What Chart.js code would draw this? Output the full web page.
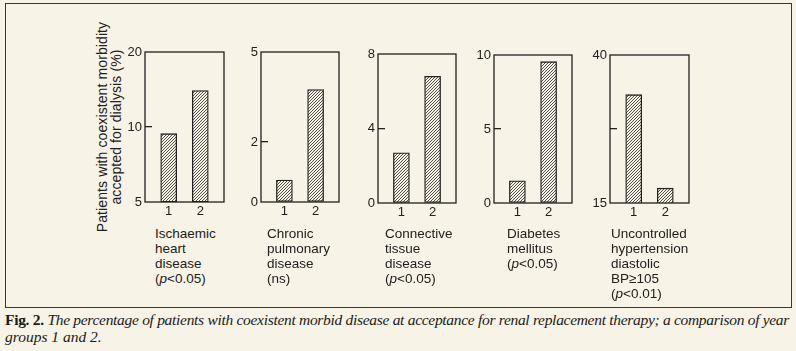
<!DOCTYPE html>
<html><head><meta charset="utf-8">
<script src="https://cdn.jsdelivr.net/npm/chart.js@4.4.1/dist/chart.umd.min.js"></script>
<style>
html,body{margin:0;padding:0;background:#f7f3e7;}
body{width:796px;height:351px;position:relative;overflow:hidden;font-family:"Liberation Sans",Arial,sans-serif;color:#232120;}
#frame{position:absolute;left:5px;top:3px;border:1.5px solid #3a3836;box-sizing:border-box;width:787px;height:305px;}
canvas.panel{position:absolute;}
.cat{position:absolute;top:226px;font-size:13.5px;line-height:15px;white-space:nowrap;}
#ytitle{position:absolute;left:-1px;top:113px;width:220px;height:28px;font-size:14px;line-height:14px;text-align:center;white-space:nowrap;transform:rotate(-90deg);transform-origin:110px 14px;letter-spacing:0.1px;}
#caption{position:absolute;left:5px;top:311px;font-family:"Liberation Serif","DejaVu Serif",serif;font-size:15.5px;line-height:17px;white-space:nowrap;color:#1c1a19;}
#caption i{font-style:italic;}
</style>
</head><body>
<div id="frame"></div>
<div id="ytitle">Patients with coexistent morbidity<br>accepted for dialysis (%)</div>
<div id="caption"><span id="cap1"><b>Fig. 2.</b> <i>The percentage of patients with coexistent morbid disease at acceptance for renal replacement therapy; a comparison of year</i></span><br><i>groups 1 and 2.</i></div>
<script>
// ---- data ----
const yearGroups = ['1', '2'];
const ischaemicHeart = [9.4, 14.0];
const chronicPulmonary = [0.73, 3.75];
const connectiveTissue = [2.7, 6.8];
const diabetesMellitus = [1.5, 9.55];
const uncontrolledHypertension = [33.3, 17.5];

const ticksIschaemic = [5, 10, 20];
const ticksPulmonary = [0, 2, 5];
const ticksConnective = [0, 4, 8];
const ticksDiabetes = [0, 5, 10];
const ticksHypertension = [15, 27.5, 40];
const tickLabelsHypertension = ['15', '', '40'];

const labelIschaemic = ['Ischaemic', 'heart', 'disease', '(p<0.05)'];
const labelPulmonary = ['Chronic', 'pulmonary', 'disease', '(ns)'];
const labelConnective = ['Connective', 'tissue', 'disease', '(p<0.05)'];
const labelDiabetes = ['Diabetes', 'mellitus', '(p<0.05)'];
const labelHypertension = ['Uncontrolled', 'hypertension', 'diastolic', 'BP\u2265105', '(p<0.01)'];

// ---- layout / style ----
const INK = '#232120';
const BG = '#f7f3e7';
const panels = [
  {box:[145,52,224,202], type:'logarithmic', data:ischaemicHeart, ticks:ticksIschaemic, tickLabels:ticksIschaemic.map(String), label:labelIschaemic, labelX:155},
  {box:[261,52,339,202], type:'linear', data:chronicPulmonary, ticks:ticksPulmonary, tickLabels:ticksPulmonary.map(String), label:labelPulmonary, labelX:267},
  {box:[378,54,456,203], type:'linear', data:connectiveTissue, ticks:ticksConnective, tickLabels:ticksConnective.map(String), label:labelConnective, labelX:385},
  {box:[494,55,572,203], type:'linear', data:diabetesMellitus, ticks:ticksDiabetes, tickLabels:ticksDiabetes.map(String), label:labelDiabetes, labelX:507},
  {box:[610,55,689,203], type:'linear', data:uncontrolledHypertension, ticks:ticksHypertension, tickLabels:tickLabelsHypertension, label:labelHypertension, labelX:611}
];

function hatch() {
  const c = document.createElement('canvas');
  c.width = 3; c.height = 3;
  const x = c.getContext('2d');
  x.fillStyle = BG; x.fillRect(0, 0, 3, 3);
  x.strokeStyle = '#2a2826'; x.lineWidth = 0.8;
  x.beginPath();
  x.moveTo(0, 3); x.lineTo(3, 0);
  x.moveTo(-1, 1); x.lineTo(1, -1);
  x.moveTo(2, 4); x.lineTo(4, 2);
  x.stroke();
  return x.createPattern(c, 'repeat');
}

const boxPlugin = {
  id: 'boxFrame',
  afterDatasetsDraw(chart) {
    const {ctx, chartArea: a} = chart;
    ctx.save();
    ctx.strokeStyle = INK; ctx.lineWidth = 1.3;
    ctx.strokeRect(a.left, a.top, a.right - a.left, a.bottom - a.top);
    ctx.restore();
  }
};

const PADL = 40, PADT = 12, PADR = 10, PADB = 24;
const tickFont = {family: '"Liberation Sans", Arial, sans-serif', size: 13};

panels.forEach(p => {
  const [l, t, r, b] = p.box;
  const cv = document.createElement('canvas');
  cv.className = 'panel';
  const w = (r - l) + PADL + PADR, h = (b - t) + PADT + PADB;
  cv.width = w; cv.height = h;
  cv.style.left = (l - PADL) + 'px'; cv.style.top = (t - PADT) + 'px';
  cv.style.width = w + 'px'; cv.style.height = h + 'px';
  document.body.appendChild(cv);

  const yMin = p.ticks[0], yMax = p.ticks[p.ticks.length - 1];
  new Chart(cv, {
    type: 'bar',
    data: {
      datasets: [{
        data: p.data.map((v, i) => ({x: i + 1, y: v})),
        backgroundColor: hatch(),
        borderColor: INK,
        borderWidth: 1.3,
        borderSkipped: false,
        barThickness: 16
      }]
    },
    options: {
      responsive: false, maintainAspectRatio: false, animation: false,
      devicePixelRatio: 1,
      layout: {padding: {left: 0, top: PADT, right: PADR, bottom: 0}},
      plugins: {legend: {display: false}, tooltip: {enabled: false}},
      scales: {
        x: {
          type: 'linear', min: 0.25, max: 2.75, offset: false,
          afterFit: s => { s.height = PADB; },
          afterBuildTicks: s => { s.ticks = yearGroups.map((g, i) => ({value: i + 1})); },
          grid: {display: false, drawTicks: false},
          border: {display: false},
          ticks: {padding: 2, color: INK, font: tickFont, autoSkip: false, maxRotation: 0,
                  callback: (v) => yearGroups[v - 1]}
        },
        y: {
          type: p.type, min: yMin, max: yMax,
          afterFit: s => { s.width = PADL; },
          afterBuildTicks: s => { s.ticks = p.ticks.map(v => ({value: v})); },
          grid: {display: true, drawOnChartArea: true, drawTicks: false, lineWidth: 1.3,
                 color: c => (c.index > 0 && c.index < p.ticks.length - 1) ? INK : 'rgba(0,0,0,0)'},
          border: {display: false, dash: [7, 400]},
          ticks: {padding: 3, color: INK, font: tickFont, autoSkip: false,
                  callback: (v, i) => p.tickLabels[i]}
        }
      }
    },
    plugins: [boxPlugin]
  });

  const d = document.createElement('div');
  d.className = 'cat';
  d.style.left = p.labelX + 'px';
  d.innerHTML = p.label.map(s => s.replace(/&/g,'&amp;').replace(/</g,'&lt;').replace(/^\(p/, '(<i>p</i>')).join('<br>');
  document.body.appendChild(d);
});

// fit the first caption line to the frame width
const cap1 = document.getElementById('cap1');
const target = 784;
const wNow = cap1.getBoundingClientRect().width;
const n = cap1.textContent.length;
const ls = (target - wNow) / n;
cap1.style.letterSpacing = ls.toFixed(3) + 'px';
</script>
</body></html>
